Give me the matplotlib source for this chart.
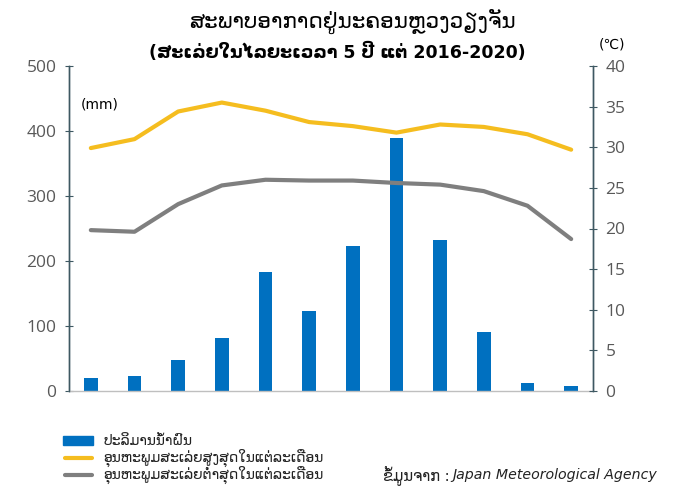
import matplotlib
matplotlib.use("Agg")
import matplotlib.pyplot as plt
from matplotlib.patches import Rectangle
from matplotlib.lines import Line2D
import numpy as np

months = list(range(1, 13))
rain_mm = [20, 23, 47, 82, 183, 123, 223, 389, 233, 91, 13, 8]
tmax_c = [29.9, 31.0, 34.4, 35.5, 34.5, 33.1, 32.6, 31.8, 32.8, 32.5, 31.6, 29.7]
tmin_c = [19.8, 19.6, 23.0, 25.3, 26.0, 25.9, 25.9, 25.6, 25.4, 24.6, 22.8, 18.7]
rain_ticks = [0, 100, 200, 300, 400, 500]
temp_ticks = [0, 5, 10, 15, 20, 25, 30, 35, 40]

title1 = "ສະພາບອາກາດຢູ່ນະຄອນຫຼວງວຽງຈັນ"
title2 = "(ສະເລ່ຍໃນໄລຍະເວລາ 5 ປີ ແຕ່ 2016-2020)"
leg_labels = ["ປະລິມານນ້ຳຝົນ", "ອຸນຫະພູມສະເລ່ຍສູງສຸດໃນແຕ່ລະເດືອນ", "ອຸນຫະພູມສະເລ່ຍຕ່ຳສຸດໃນແຕ່ລະເດືອນ"]

BLUE = "#0070C0"
YELLOW = "#F5BD1F"
GRAY = "#7F7F7F"
SPINE = "#3E5862"
TICKC = "#595959"

plt.rcParams['font.family'] = ['DejaVu Sans']

fig = plt.figure(figsize=(6.77, 4.95), dpi=100)
ax = fig.add_axes([69/677, 1-391/495, (593-69)/677, (391-66)/495])
ax2 = ax.twinx()

x = np.arange(len(months))
ax.bar(x, rain_mm, width=0.32, color=BLUE, zorder=2)
ax2.plot(x, tmax_c, color=YELLOW, lw=3, solid_capstyle='round', zorder=3)
ax2.plot(x, tmin_c, color=GRAY, lw=3, solid_capstyle='round', zorder=3)

ax.set_xlim(-0.5, 11.5)
ax.set_ylim(0, 500)
ax2.set_ylim(0, 40)
ax.set_yticks(rain_ticks)
ax2.set_yticks(temp_ticks)
ax.set_xticks([])

for a in (ax, ax2):
    a.spines['top'].set_visible(False)
    for s in ('left', 'right', 'bottom'):
        a.spines[s].set_color(SPINE)
        a.spines[s].set_linewidth(1.0)
ax.spines['bottom'].set_color("#BFBFBF")
ax2.spines['bottom'].set_visible(False)
ax.tick_params(axis='y', direction='inout', length=6, color=SPINE, labelcolor=TICKC, labelsize=12.5, pad=6)
ax2.tick_params(axis='y', direction='inout', length=6, color=SPINE, labelcolor=TICKC, labelsize=12.5, pad=6)
for lab in ax.get_yticklabels() + ax2.get_yticklabels():
    lab.set_family(['Open Sans', 'DejaVu Sans'])
ax2.set_zorder(ax.get_zorder() + 1)
ax2.patch.set_visible(False)

fig.text(100/677, 1-104/495, "(mm)", ha='center', va='center', fontsize=10, color='black')
fig.text(612/677, 1-45/495, "(℃)", ha='center', va='center', fontsize=10, color='black')

fig.text(352/677, 1-21/495, title1, ha='center', va='center', fontsize=15.5, color='black')
fig.text(337/677, 1-52/495, title2, ha='center', va='center', fontsize=12.5, fontweight='bold', color='black')

# legend
ly = [441, 458, 475]
for i, (lab, yy) in enumerate(zip(leg_labels, ly)):
    yf = 1 - yy/495
    if i == 0:
        fig.patches.append(Rectangle((63/677, yf - 4/495), 30/677, 9/495, transform=fig.transFigure, color=BLUE))
    else:
        c = YELLOW if i == 1 else GRAY
        fig.lines.append(Line2D([65/677, 92/677], [yf, yf], transform=fig.transFigure, color=c, lw=3, solid_capstyle='round'))
    fig.text(103/677, yf, lab, ha='left', va='center', fontsize=10, color='#222222')

fig.text(383/677, 1-475/495, "ຂໍ້ມູນຈາກ :", ha='left', va='center', fontsize=10.5, color='#222222')
fig.text(452/677, 1-475/495, "Japan Meteorological Agency", ha='left', va='center', fontsize=10.2, style='italic', color='#222222')

fig.savefig("out.png", dpi=100)
